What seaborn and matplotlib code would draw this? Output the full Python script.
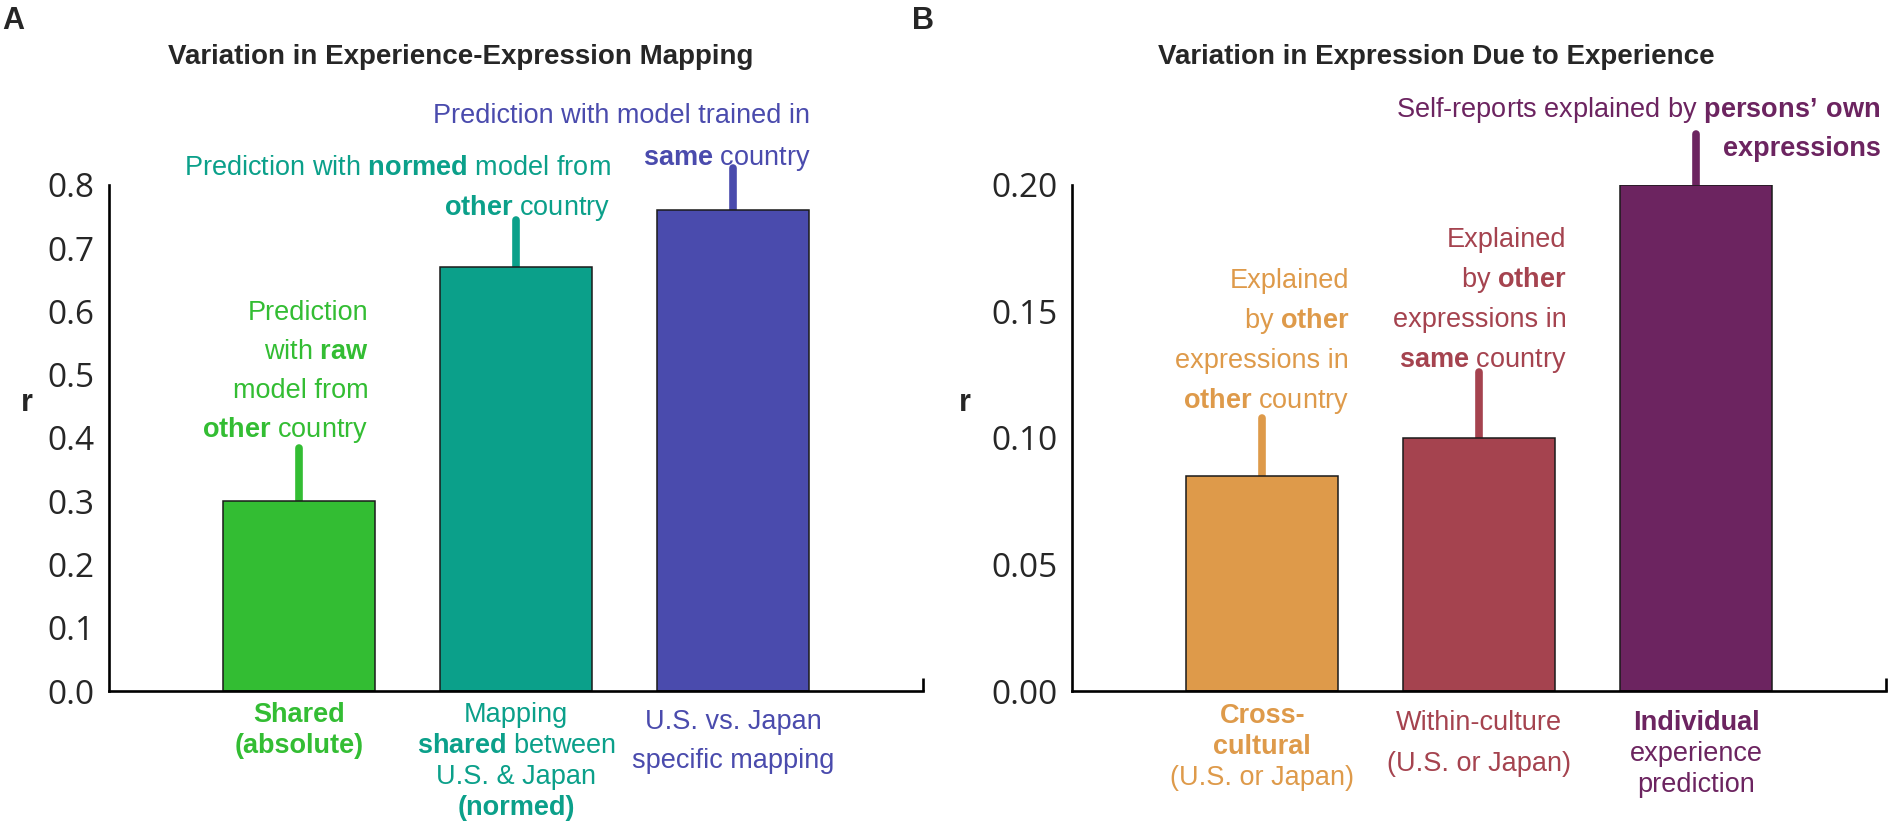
import matplotlib
matplotlib.use("Agg")
import matplotlib.pyplot as plt
import seaborn as sns

# ---- panel A data ----
a_cats = ["Shared (absolute)", "Shared (normed)", "Specific"]
a_vals = [0.30, 0.67, 0.76]
a_err = [0.384, 0.745, 0.827]
a_colors = ["#33BD33", "#0BA08A", "#4A4BAD"]
a_yticks = [0.0, 0.1, 0.2, 0.3, 0.4, 0.5, 0.6, 0.7, 0.8]
a_ticklabels = ["0.0", "0.1", "0.2", "0.3", "0.4", "0.5", "0.6", "0.7", "0.8"]
a_xlabels = [["**Shared**", "**(absolute)**"],
             ["Mapping", "**shared** between", "U.S. & Japan", "**(normed)**"],
             ["U.S. vs. Japan", "specific mapping"]]
a_notes = [["Prediction", "with **raw**", "model from", "**other** country"],
           ["Prediction with **normed** model from", "**other** country"],
           ["Prediction with model trained in", "**same** country"]]
a_title = "Variation in Experience-Expression Mapping"

# ---- panel B data ----
b_cats = ["Cross-cultural", "Within-culture", "Individual"]
b_vals = [0.085, 0.100, 0.200]
b_err = [0.108, 0.126, 0.220]
b_colors = ["#DE9A4A", "#A5434F", "#6C2460"]
b_yticks = [0.00, 0.05, 0.10, 0.15, 0.20]
b_ticklabels = ["0.00", "0.05", "0.10", "0.15", "0.20"]
b_xlabels = [["**Cross-**", "**cultural**", "(U.S. or Japan)"],
             ["Within-culture", "(U.S. or Japan)"],
             ["**Individual**", "experience", "prediction"]]
b_notes = [["Explained", "by **other**", "expressions in", "**other** country"],
           ["Explained", "by **other**", "expressions in", "**same** country"],
           ["Self-reports explained by **persons\u2019 own**", "**expressions**"]]
b_title = "Variation in Expression Due to Experience"

# layout (pixels): note (dx from bar edge, bottom line above error top, spacing)
a_note_pos = [(-7, 21, 39), (18, 15, 40), (1, 13, 42)]
b_note_pos = [(11, 20, 40), (11, 15, 40), (108, -12, 39)]
# x label (first line below axis, spacing)
a_lab_pos = [(21, 31), (21, 31), (28, 39)]
b_lab_pos = [(22, 31), (29, 41), (29, 31)]

sns.set_style("white")
plt.rcParams["font.family"] = ["Liberation Sans", "DejaVu Sans"]
plt.rcParams["mathtext.fontset"] = "custom"
plt.rcParams["mathtext.rm"] = "Liberation Sans"
plt.rcParams["mathtext.bf"] = "Liberation Sans:bold"

W, H = 1892, 821
fig = plt.figure(figsize=(W / 100, H / 100), dpi=100)

TXT = 19.5
BW = 0.70


def rich(s):
    # "**word**" -> bold; whole-bold lines use plain bold text
    if s.startswith("**") and s.endswith("**") and s.count("**") == 2:
        return s[2:-2], "bold"
    parts = s.split("**")
    out = ""
    for i, p in enumerate(parts):
        if i % 2 and p:
            out += r"$\mathbf{" + p.replace(" ", r"\ ") + "}$"
        else:
            out += p
    return out, "normal"


def panel(left_px, cats, vals, err, colors, yticks, ticklabels, xlabels,
          notes, note_pos, lab_pos):
    ax = fig.add_axes([left_px / W, 1 - 691 / H, 814 / W, 506 / H])
    # error lines (upper only)
    ax.vlines(range(len(cats)), vals, err, colors=colors, linewidth=5.5,
              capstyle="round", zorder=1, clip_on=False)
    sns.barplot(x=cats, y=vals, hue=cats, palette=colors, width=BW,
                edgecolor="#1a1a1a", linewidth=1.1, legend=False, ax=ax,
                zorder=2, saturation=1)
    ax.set_xlim(-0.876, 2.873)
    ax.set_ylim(yticks[0], yticks[-1])
    ax.set_yticks(yticks)
    ax.set_yticklabels(ticklabels, fontfamily=["Open Sans", "DejaVu Sans"],
                       fontsize=24)
    ax.set_xticks([])
    ax.set_xlabel("")
    ax.set_ylabel("")
    ax.tick_params(axis="y", direction="in", length=15, width=1.9, pad=10.5,
                   color="black")
    for s in ["top", "right"]:
        ax.spines[s].set_visible(False)
    for s in ["left", "bottom"]:
        ax.spines[s].set_linewidth(1.9)
        ax.spines[s].set_color("black")
    ax.plot([1, 1], [0, 0.026], transform=ax.transAxes, color="black",
            lw=1.9, clip_on=False, solid_capstyle="butt")

    # category labels under the axis
    for i, lines in enumerate(xlabels):
        start, step = lab_pos[i]
        for j, line in enumerate(lines):
            txt, wt = rich(line)
            ax.annotate(txt, xy=(i, 0), xycoords=ax.get_xaxis_transform(),
                        xytext=(0, -(start + j * step) - 10),
                        textcoords="offset pixels", ha="center",
                        va="baseline", fontsize=TXT, fontweight=wt,
                        color=colors[i], annotation_clip=False)

    # notes above the error lines
    for i, lines in enumerate(notes):
        dx, bottom, step = note_pos[i]
        n = len(lines)
        for j, line in enumerate(lines):
            txt, wt = rich(line)
            off = bottom + (n - 1 - j) * step
            ax.annotate(txt, xy=(i + BW / 2, err[i]), xycoords="data",
                        xytext=(dx, off - 10), textcoords="offset pixels",
                        ha="right", va="baseline", fontsize=TXT,
                        fontweight=wt, color=colors[i],
                        annotation_clip=False)
    return ax


ax_a = panel(109, a_cats, a_vals, a_err, a_colors, a_yticks, a_ticklabels,
             a_xlabels, a_notes, a_note_pos, a_lab_pos)
ax_b = panel(1072, b_cats, b_vals, b_err, b_colors, b_yticks, b_ticklabels,
             b_xlabels, b_notes, b_note_pos, b_lab_pos)

fig.text(461 / W, 1 - 57 / H, a_title, ha="center", va="center",
         fontsize=20, fontweight="bold")
fig.text(1436 / W, 1 - 57 / H, b_title, ha="center", va="center",
         fontsize=20, fontweight="bold")
fig.text(2 / W, 1 - 21 / H, "A", ha="left", va="center", fontsize=22,
         fontweight="bold")
fig.text(912 / W, 1 - 21 / H, "B", ha="left", va="center", fontsize=22,
         fontweight="bold")
fig.text(27 / W, 1 - 403 / H, "r", ha="center", va="center", fontsize=22,
         fontweight="bold")
fig.text(965 / W, 1 - 403 / H, "r", ha="center", va="center", fontsize=22,
         fontweight="bold")

fig.savefig("out.png", dpi=100, facecolor="white")
